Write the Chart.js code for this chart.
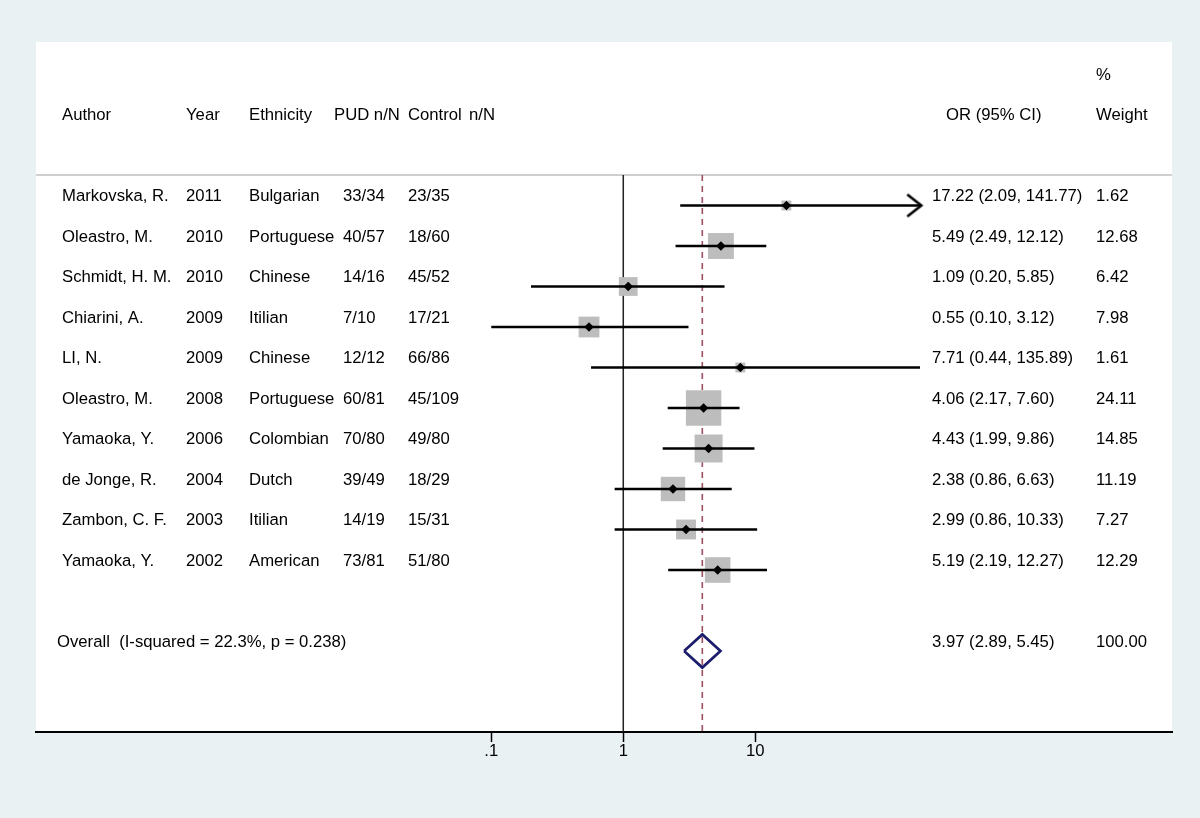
<!DOCTYPE html>
<html>
<head>
<meta charset="utf-8">
<script src="https://cdn.jsdelivr.net/npm/chart.js@4.4.1/dist/chart.umd.min.js"></script>
<style>
  html, body { margin: 0; padding: 0; background: #eaf1f3; }
  canvas { display: block; }
</style>
</head>
<body>
<canvas id="forest" width="1200" height="818"></canvas>
<script>
// study rows, top to bottom
const authors = ['Markovska, R.', 'Oleastro, M.', 'Schmidt, H. M.', 'Chiarini, A.', 'LI, N.',
  'Oleastro, M.', 'Yamaoka, Y.', 'de Jonge, R.', 'Zambon, C. F.', 'Yamaoka, Y.'];
const years = ['2011', '2010', '2010', '2009', '2009', '2008', '2006', '2004', '2003', '2002'];
const ethnicity = ['Bulgarian', 'Portuguese', 'Chinese', 'Itilian', 'Chinese',
  'Portuguese', 'Colombian', 'Dutch', 'Itilian', 'American'];
const pudCounts = ['33/34', '40/57', '14/16', '7/10', '12/12', '60/81', '70/80', '39/49', '14/19', '73/81'];
const controlCounts = ['23/35', '18/60', '45/52', '17/21', '66/86', '45/109', '49/80', '18/29', '15/31', '51/80'];
const oddsRatios = [17.22, 5.49, 1.09, 0.55, 7.71, 4.06, 4.43, 2.38, 2.99, 5.19];
// CI ends as drawn in the plot (the two wide ones are cut off at the plot edge)
const ciLow = [2.7, 2.49, 0.20, 0.10, 0.57, 2.17, 1.99, 0.86, 0.86, 2.19];
const ciHigh = [181, 12.12, 5.85, 3.12, 177, 7.60, 9.86, 6.63, 10.33, 12.27];
const ciText = ['17.22 (2.09, 141.77)', '5.49 (2.49, 12.12)', '1.09 (0.20, 5.85)', '0.55 (0.10, 3.12)',
  '7.71 (0.44, 135.89)', '4.06 (2.17, 7.60)', '4.43 (1.99, 9.86)', '2.38 (0.86, 6.63)',
  '2.99 (0.86, 10.33)', '5.19 (2.19, 12.27)'];
const weights = [1.62, 12.68, 6.42, 7.98, 1.61, 24.11, 14.85, 11.19, 7.27, 12.29];
const arrowRows = [0];

const overallOR = 3.97;
const overallLow = 2.89;
const overallHigh = 5.45;
const overallLabel = 'Overall  (I-squared = 22.3%, p = 0.238)';
const overallCI = '3.97 (2.89, 5.45)';
const overallWeight = '100.00';

const xTicks = [0.1, 1, 10];
const xTickLabels = ['.1', '1', '10'];

const FONT = '16.7px "Liberation Sans", Arial, sans-serif';
const overallRow = 11;
const sepRow = -0.753;
const textShift = -0.22;
const col = { author: 62, year: 186, eth: 249, pud: 343, ctrl: 408, or: 932, wt: 1096 };

// open arrow head used as a point style
const arrowImg = document.createElement('canvas');
arrowImg.width = 34;
arrowImg.height = 30;
(function () {
  const a = arrowImg.getContext('2d');
  a.strokeStyle = '#000';
  a.lineWidth = 2.6;
  a.beginPath();
  a.moveTo(17 - 14, 15 - 11);
  a.lineTo(17, 15);
  a.lineTo(17 - 14, 15 + 11);
  a.stroke();
})();

const rows = authors.map((_, i) => i);

const ciSets = rows.map((i) => ({
  data: [{ x: ciLow[i], y: i }, { x: ciHigh[i], y: i }],
  showLine: true,
  borderColor: '#000',
  borderWidth: 2.6,
  pointRadius: 0,
  order: 5,
}));

const panelPlugin = {
  id: 'panel',
  beforeDraw(chart) {
    const { ctx, chartArea: a } = chart;
    ctx.save();
    ctx.fillStyle = '#eaf1f3';
    ctx.fillRect(0, 0, chart.width, chart.height);
    ctx.fillStyle = '#fff';
    ctx.fillRect(a.left, a.top, a.right - a.left, a.bottom - a.top);
    const ySep = chart.scales.y.getPixelForValue(sepRow);
    ctx.strokeStyle = '#cfcfcf';
    ctx.lineWidth = 2;
    ctx.beginPath();
    ctx.moveTo(a.left, ySep);
    ctx.lineTo(a.right, ySep);
    ctx.stroke();
    ctx.restore();
  },
  afterDatasetsDraw(chart) {
    const { ctx } = chart;
    const y = chart.scales.y;
    ctx.save();
    ctx.font = FONT;
    ctx.fillStyle = '#000';
    ctx.textBaseline = 'middle';
    ctx.textAlign = 'left';
    const put = (txt, x, row) => ctx.fillText(txt, x, y.getPixelForValue(row + textShift));

    put('%', col.wt, -3);
    put('Author', col.author, -2);
    put('Year', col.year, -2);
    put('Ethnicity', col.eth, -2);
    put('PUD n/N', 334, -2);
    put('Control', col.ctrl, -2);
    put('n/N', 469, -2);
    put('OR (95% CI)', 946, -2);
    put('Weight', col.wt, -2);

    rows.forEach((i) => {
      put(authors[i], col.author, i);
      put(years[i], col.year, i);
      put(ethnicity[i], col.eth, i);
      put(pudCounts[i], col.pud, i);
      put(controlCounts[i], col.ctrl, i);
      put(ciText[i], col.or, i);
      put(weights[i].toFixed(2), col.wt, i);
    });

    put(overallLabel, 57, overallRow);
    put(overallCI, col.or, overallRow);
    put(overallWeight, col.wt, overallRow);
    ctx.restore();
  },
};

new Chart(document.getElementById('forest'), {
  type: 'scatter',
  data: {
    datasets: [
      {
        // line of no effect
        data: [{ x: 1, y: sepRow }, { x: 1, y: 14 }],
        showLine: true,
        borderColor: '#222',
        borderWidth: 1.5,
        pointRadius: 0,
        order: 20,
      },
      {
        // pooled estimate
        data: [{ x: overallOR, y: sepRow }, { x: overallOR, y: 14 }],
        showLine: true,
        borderColor: '#9e5060',
        borderWidth: 1.6,
        borderDash: [6, 5],
        pointRadius: 0,
        order: 19,
      },
      {
        // weight boxes
        data: rows.map((i) => ({ x: oddsRatios[i], y: i })),
        pointStyle: 'rect',
        pointRadius: (c) => (7 * Math.sqrt(weights[c.dataIndex] || 1) + 1) / Math.SQRT2,
        backgroundColor: '#bdbdbd',
        borderWidth: 0,
        pointBorderWidth: 0,
        order: 10,
      },
      ...ciSets,
      {
        data: arrowRows.map((i) => ({ x: ciHigh[i], y: i })),
        pointStyle: arrowImg,
        pointRadius: 10,
        order: 4,
      },
      {
        // point estimates
        data: rows.map((i) => ({ x: oddsRatios[i], y: i })),
        pointStyle: 'rectRot',
        pointRadius: 4.8,
        backgroundColor: '#000',
        borderColor: '#000',
        pointBorderWidth: 0,
        order: 1,
      },
      {
        // overall diamond
        data: [
          { x: overallLow, y: overallRow },
          { x: overallOR, y: overallRow - 0.41 },
          { x: overallHigh, y: overallRow },
          { x: overallOR, y: overallRow + 0.41 },
          { x: overallLow, y: overallRow },
        ],
        showLine: true,
        borderColor: '#1c1c6c',
        borderWidth: 2.7,
        borderJoinStyle: 'miter',
        pointRadius: 0,
        order: 2,
      },
    ],
  },
  options: {
    responsive: false,
    animation: false,
    events: [],
    layout: { padding: { left: 36, right: 28, top: 42, bottom: 0 } },
    plugins: { legend: { display: false }, tooltip: { enabled: false } },
    scales: {
      x: {
        type: 'logarithmic',
        min: 3.556e-5,
        max: 14355,
        bounds: 'data',
        afterBuildTicks: (s) => {
          s.ticks = xTicks.map((v) => ({ value: v }));
        },
        afterFit: (s) => {
          s.height = 86;
        },
        ticks: {
          callback: (v, i) => xTickLabels[i],
          autoSkip: false,
          maxRotation: 0,
          padding: -1,
          color: '#000',
          font: { family: '"Liberation Sans", Arial, sans-serif', size: 16.7 },
        },
        grid: {
          drawOnChartArea: false,
          drawTicks: true,
          tickLength: 10,
          tickColor: '#000',
          tickWidth: 1.5,
        },
        border: { display: true, color: '#000', width: 2 },
      },
      y: {
        type: 'linear',
        reverse: true,
        min: -4.037,
        max: 13.0,
        display: false,
      },
    },
  },
  plugins: [panelPlugin],
});
</script>
</body>
</html>
